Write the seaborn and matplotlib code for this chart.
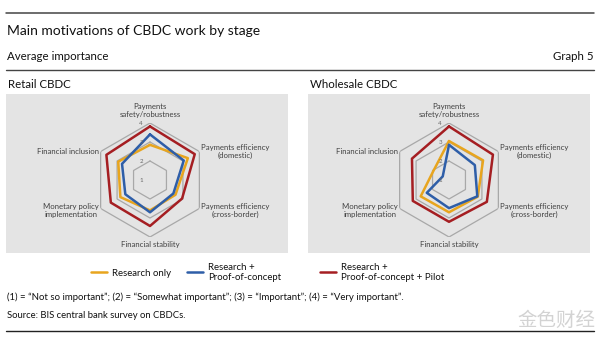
import numpy as np
import pandas as pd
import matplotlib
matplotlib.use("Agg")
import matplotlib.pyplot as plt
from matplotlib.lines import Line2D
import seaborn as sns

# ---------------- data ----------------
categories = ["Payments\nsafety/robustness", "Payments efficiency\n(domestic)",
              "Payments efficiency\n(cross-border)", "Financial stability",
              "Monetary policy\nimplementation", "Financial inclusion"]
series_names = ["Research only", "Research +\nProof-of-concept",
                "Research +\nProof-of-concept + Pilot"]
retail_research = [2.85, 3.3, 2.55, 2.6, 2.8, 2.93]
retail_poc = [3.4, 3.05, 2.42, 2.7, 2.5, 2.7]
retail_pilot = [3.82, 3.72, 2.95, 3.42, 3.38, 3.65]
wholesale_research = [3.05, 3.07, 2.75, 2.7, 2.72, 1.95]
wholesale_poc = [2.85, 2.57, 2.72, 2.48, 2.35, 1.38]
wholesale_pilot = [3.82, 3.67, 3.3, 3.2, 3.2, 3.25]
radial_ticks = [1, 2, 3, 4]
panel_titles = ["Retail CBDC", "Wholesale CBDC"]

colors = ["#E8A51E", "#2E5EA8", "#A51E22"]
grid_col = "#A8A8A8"
panel_bg = "#E4E4E4"
text_col = "#404040"

sns.set_style("white")
plt.rcParams["font.family"] = ["Lato", "Noto Sans CJK SC", "DejaVu Sans"]

W, H = 600, 341
fig = plt.figure(figsize=(W / 100, H / 100), dpi=100)


def fx(x):
    return x / W


def fy(y):
    return 1 - y / H


def hline(y, x0=6, x1=594, lw=1.0, color="#444444"):
    fig.add_artist(Line2D([fx(x0), fx(x1)], [fy(y), fy(y)], color=color, lw=lw,
                          transform=fig.transFigure))


hline(13, lw=1.1)
hline(70, lw=1.0)
hline(331, lw=1.0, color="#222222")

fig.text(fx(7), fy(31), "Main motivations of CBDC work by stage", fontsize=10.0,
         va="center", ha="left", color="#111111")
fig.text(fx(7), fy(56), "Average importance", fontsize=8.3, va="center", ha="left", color="#111111")
fig.text(fx(594), fy(56), "Graph 5", fontsize=8.3, va="center", ha="right", color="#111111")

panels = [(6, 288, 150, [retail_research, retail_poc, retail_pilot]),
          (308, 590, 449, [wholesale_research, wholesale_poc, wholesale_pilot])]

theta = np.linspace(0, 2 * np.pi, len(categories), endpoint=False)
theta_c = np.append(theta, theta[0])
R = 57  # px radius for value 4
cy = 180

label_cfg = [  # offset (pt), ha, va
    ((0, 3.5), "center", "bottom"),
    ((1.5, 0), "left", "center"),
    ((1.5, -1.5), "left", "center"),
    ((0, -3), "center", "top"),
    ((-1.5, -1.5), "right", "center"),
    ((-1.5, 0), "right", "center"),
]

for (x0, x1, cx, series), ptitle in zip(panels, panel_titles):
    fig.text(fx(x0 + 1.5), fy(85), ptitle, fontsize=8.3, va="center", ha="left", color="#111111")
    bg = fig.add_axes([fx(x0), fy(253), fx(x1 - x0), (253 - 94) / H])
    bg.set_facecolor(panel_bg)
    bg.set_xticks([])
    bg.set_yticks([])
    for s in bg.spines.values():
        s.set_visible(False)

    pax = fig.add_axes([fx(cx - R), fy(cy + R), 2 * R / W, 2 * R / H], projection="polar")
    pax.set_theta_zero_location("N")
    pax.set_theta_direction(-1)
    pax.patch.set_alpha(0)
    pax.grid(False)
    pax.spines["polar"].set_visible(False)
    pax.set_xticks([])
    pax.set_yticks([])

    for lvl in radial_ticks[1:]:
        pax.plot(theta_c, [lvl] * len(theta_c), color=grid_col, lw=0.9, zorder=1)

    for vals, col, name in zip(series, colors, series_names):
        df = pd.DataFrame({"theta": theta_c, "value": list(vals) + [vals[0]]})
        sns.lineplot(data=df, x="theta", y="value", sort=False, estimator=None,
                     color=col, lw=1.8, ax=pax, zorder=3)
    pax.set_ylim(1, 4)
    pax.set_xlabel("")
    pax.set_ylabel("")

    for lvl in radial_ticks:
        pax.annotate(str(lvl), xy=(0, lvl), xytext=(-6.5, 0), textcoords="offset points",
                     ha="center", va="center", fontsize=4.4, color="#666666")

    for t, cat, (off, ha, va) in zip(theta, categories, label_cfg):
        pax.annotate(cat, xy=(t, 4), xytext=off, textcoords="offset points",
                     ha=ha, va=va, fontsize=5.6, color=text_col, multialignment="center",
                     annotation_clip=False, linespacing=1.15)

handles = [Line2D([], [], color=c, lw=1.8) for c in colors]
leg1 = fig.legend(handles[:2], series_names[:2], loc="upper left",
                  bbox_to_anchor=(fx(82), fy(254)), ncol=2, frameon=False,
                  fontsize=6.9, handlelength=1.75, handletextpad=0.5, columnspacing=1.6,
                  labelcolor="#111111")
leg2 = fig.legend(handles[2:], series_names[2:], loc="upper left",
                  bbox_to_anchor=(fx(311), fy(254)), ncol=1, frameon=False,
                  fontsize=6.9, handlelength=1.75, handletextpad=0.5, labelcolor="#111111")

fig.text(fx(7), fy(297),
         "(1) = \u201cNot so important\u201d; (2) = \u201cSomewhat important\u201d; (3) = \u201cImportant\u201d; (4) = \u201cVery important\u201d.",
         fontsize=6.9, va="center", ha="left", color="#111111")
fig.text(fx(7), fy(316), "Source: BIS central bank survey on CBDCs.", fontsize=6.8,
         va="center", ha="left", color="#111111")

fig.text(fx(595), fy(320), "金色财经", fontsize=14, va="center", ha="right",
         color="#D3D3D3", family=["Noto Sans CJK SC"])

fig.savefig("out.png", dpi=100)
